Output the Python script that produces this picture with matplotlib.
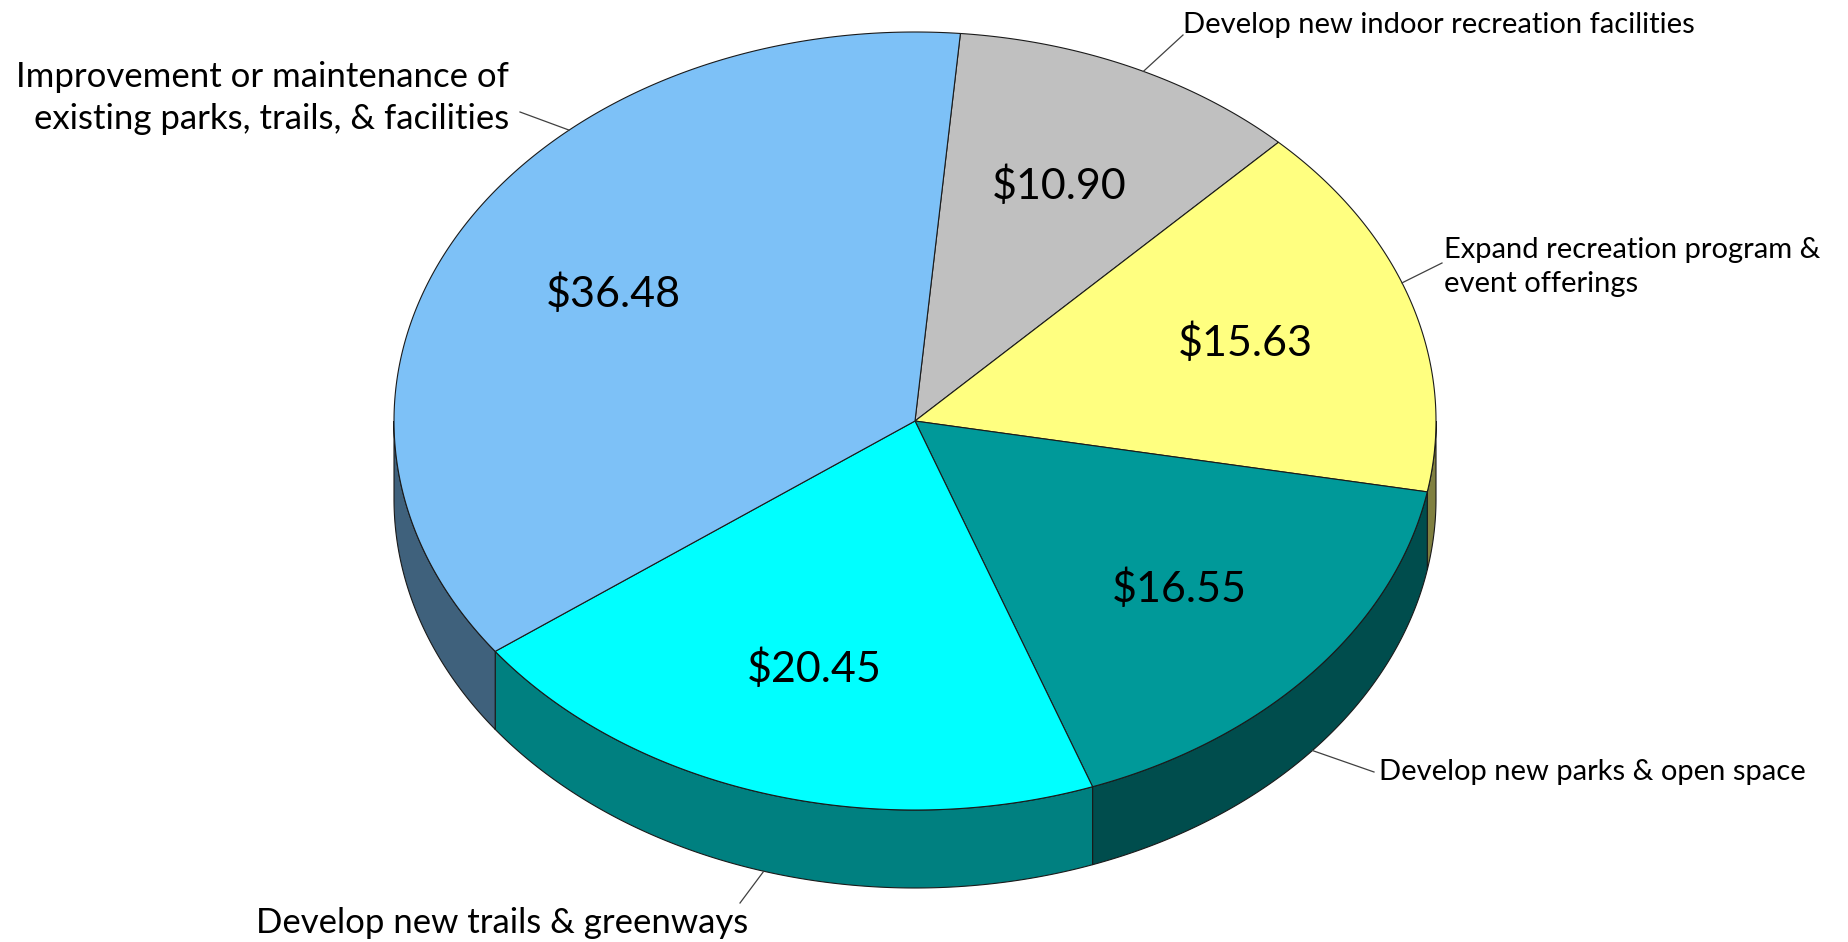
import numpy as np
import matplotlib
matplotlib.use('Agg')
import matplotlib.pyplot as plt
from matplotlib.patches import Polygon

# spending allocation ($ out of 100)
categories = ['Develop new indoor recreation facilities',
              'Expand recreation program &\nevent offerings',
              'Develop new parks & open space',
              'Develop new trails & greenways',
              'Improvement or maintenance of\nexisting parks, trails, & facilities']
values = [10.90, 15.63, 16.55, 20.45, 36.48]
top_colors = ['#c0c0c0', '#ffff80', '#009999', '#00ffff', '#7dc1f7']

# pie geometry in pixel space (y grows downwards)
cx, cy = 915, 421
rx, ry = 521, 389
depth = 78
start_angle = 85.0

# category label placement: (x, y, horizontal alignment, font size), and where the leader meets the label
label_pos = [(1183, 25, 'left', 21),
             (1444, 267, 'left', 21),
             (1379, 772, 'left', 21),
             (502, 923, 'center', 25),
             (509, 98, 'right', 25)]
leader_end = [(1183, 35), (1442, 263), (1374, 772), (740, 903), (520, 112)]
leader_angle = [64.0, 20.8, None, None, 131.6]


def shade(c, f=0.5):
    r, g, b = matplotlib.colors.to_rgb(c)
    return (r * f, g * f, b * f)


def pt(t, dy=0.0):
    t = np.radians(t)
    return cx + rx * np.cos(t), cy - ry * np.sin(t) + dy


fig = plt.figure(figsize=(18.49, 9.42), dpi=100)
ax = fig.add_axes([0, 0, 1, 1])
ax.set_xlim(0, 1849)
ax.set_ylim(942, 0)
ax.axis('off')

total = sum(values)
spans = []
a = start_angle
for v in values:
    b = a - v / total * 360.0
    spans.append((b, a))
    a = b

# front side walls
for (lo, hi), col in zip(spans, top_colors):
    for off in (0.0, -360.0, 360.0):
        s0 = max(lo, -180.0 + off)
        s1 = min(hi, 0.0 + off)
        if s1 <= s0:
            continue
        t = np.linspace(s0, s1, 200)
        xs, ys = pt(t)
        xb, yb = pt(t[::-1], depth)
        poly = np.column_stack([np.r_[xs, xb], np.r_[ys, yb]])
        ax.add_patch(Polygon(poly, closed=True, facecolor=shade(col),
                             edgecolor='#1a1a1a', lw=0.8, zorder=1))

# top face wedges
for (lo, hi), col in zip(spans, top_colors):
    t = np.linspace(lo, hi, 400)
    xs, ys = pt(t)
    poly = np.column_stack([np.r_[cx, xs], np.r_[cy, ys]])
    ax.add_patch(Polygon(poly, closed=True, facecolor=col,
                         edgecolor='#1a1a1a', lw=0.8, zorder=2))

# value labels
for (lo, hi), v in zip(spans, values):
    x, y = pt((lo + hi) / 2)
    x = cx + (x - cx) * 0.665
    y = cy + (y - cy) * 0.665
    ax.text(x, y, f'${v:.2f}', ha='center', va='center', fontsize=31,
            family='Lato', color='black', zorder=3)

# category labels with leader lines
for (lo, hi), name, (lx, ly, ha, fs), end, ang in zip(spans, categories, label_pos,
                                                      leader_end, leader_angle):
    mid = (lo + hi) / 2
    if ang is None:
        ex, ey = pt(mid, depth)
    else:
        ex, ey = pt(ang)
    ax.plot([ex, end[0]], [ey, end[1]], color='#404040', lw=0.9, zorder=3)
    ax.text(lx, ly, name, ha=ha, va='center', multialignment=ha,
            fontsize=fs, family='Lato', color='black', linespacing=1.35, zorder=3)

fig.savefig('out.png', dpi=100, facecolor='white')
